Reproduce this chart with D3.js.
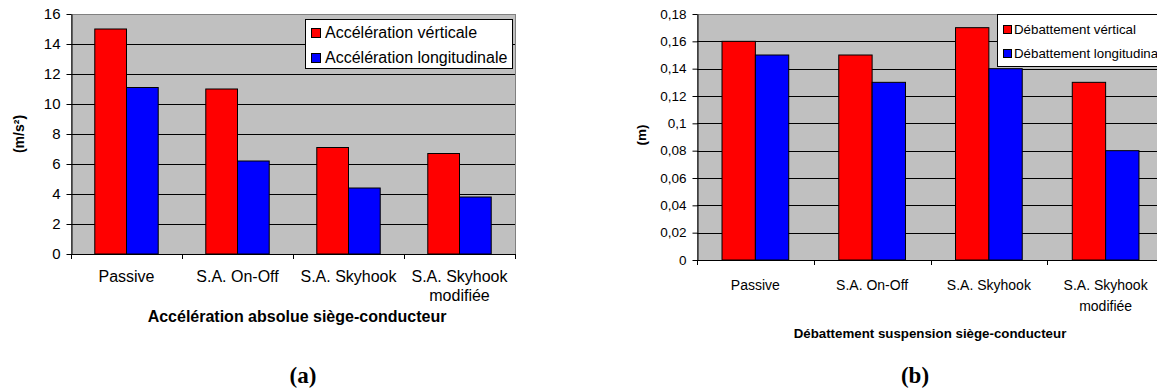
<!DOCTYPE html>
<html>
<head>
<meta charset="utf-8">
<script src="https://cdn.jsdelivr.net/npm/d3@7"></script>
<style>
  html, body { margin: 0; padding: 0; background: #ffffff; }
  svg { display: block; }
  text { font-family: "Liberation Sans", Arial, sans-serif; fill: #000; }
</style>
</head>
<body>
<svg id="fig" width="1157" height="390"></svg>
<script>
// Categories shared by both panels
const categories = ["Passive", "S.A. On-Off", "S.A. Skyhook", "S.A. Skyhook modifiée"];

// Panel (a): absolute acceleration at the driver seat (m/s²)
const accelSeries = ["Accélération vérticale", "Accélération longitudinale"];
const accelVerticale = [15.0, 11.0, 7.1, 6.7];
const accelLongitudinale = [11.1, 6.2, 4.4, 3.8];
const accelTicks = [0, 2, 4, 6, 8, 10, 12, 14, 16];
const accelTickLabels = ["0", "2", "4", "6", "8", "10", "12", "14", "16"];

// Panel (b): seat suspension travel (m)
const debSeries = ["Débattement vértical", "Débattement longitudinal"];
const debVertical = [0.16, 0.15, 0.17, 0.13];
const debLongitudinal = [0.15, 0.13, 0.14, 0.08];
const debTicks = [0, 0.02, 0.04, 0.06, 0.08, 0.1, 0.12, 0.14, 0.16, 0.18];
const debTickLabels = ["0", "0,02", "0,04", "0,06", "0,08", "0,1", "0,12", "0,14", "0,16", "0,18"];

const seriesColors = ["#ff0000", "#0000ff"];

const svg = d3.select("#fig");

function drawPanel(cfg) {
  const g = svg.append("g");
  const y = d3.scaleLinear().domain([0, cfg.ticks[cfg.ticks.length - 1]]).range([cfg.bottom, cfg.top]);
  const x = d3.scaleBand().domain(categories).range([cfg.left, cfg.right]).paddingInner(0).paddingOuter(0);
  // bars use 150% gap width: two bars plus 1.5 bar widths per category
  const xs = d3.scaleBand().domain(cfg.series).range([0, x.bandwidth()]).paddingInner(0).paddingOuter(0.75);

  // plot area
  g.append("rect")
    .attr("x", cfg.left).attr("y", cfg.top)
    .attr("width", cfg.right - cfg.left).attr("height", cfg.bottom - cfg.top)
    .attr("fill", "#c0c0c0").attr("stroke", "#808080").attr("stroke-width", 1)
    .attr("shape-rendering", "crispEdges");

  // horizontal gridlines
  g.append("g").selectAll("line")
    .data(cfg.ticks.slice(1, -1))
    .join("line")
    .attr("x1", cfg.left).attr("x2", cfg.right)
    .attr("y1", d => Math.round(y(d)) + 0.5).attr("y2", d => Math.round(y(d)) + 0.5)
    .attr("stroke", "#000").attr("stroke-width", 1);

  // bars
  const rows = categories.map((c, i) => ({ c, vals: cfg.values.map(v => v[i]) }));
  const grp = g.append("g").selectAll("g").data(rows).join("g")
    .attr("transform", d => `translate(${x(d.c)},0)`);
  grp.selectAll("rect")
    .data(d => d.vals.map((v, k) => ({ s: cfg.series[k], v, k })))
    .join("rect")
    .attr("x", d => xs(d.s))
    .attr("y", d => y(d.v))
    .attr("width", xs.bandwidth())
    .attr("height", d => y(0) - y(d.v))
    .attr("fill", d => seriesColors[d.k])
    .attr("stroke", "#000").attr("stroke-width", 1);

  // y axis
  const yAxis = d3.axisLeft(y)
    .tickValues(cfg.ticks)
    .tickFormat((d, i) => cfg.tickLabels[i])
    .tickSize(5).tickSizeOuter(0).tickPadding(6);
  const ya = g.append("g").attr("transform", `translate(${cfg.left + 0.5},0)`).call(yAxis);
  ya.select(".domain").attr("stroke", "#000");
  ya.selectAll(".tick line").attr("stroke", "#000");
  ya.selectAll("text").attr("font-size", cfg.tickFont + "px")
    .attr("font-family", '"Liberation Sans", Arial, sans-serif').attr("fill", "#000");

  // x axis: baseline and tick marks at category boundaries
  const bounds = categories.map(c => x(c)).concat([cfg.right]);
  g.append("line")
    .attr("x1", cfg.left).attr("x2", cfg.right)
    .attr("y1", Math.round(y(0)) + 0.5).attr("y2", Math.round(y(0)) + 0.5)
    .attr("stroke", "#000");
  g.append("g").selectAll("line").data(bounds).join("line")
    .attr("x1", d => Math.round(d) + 0.5).attr("x2", d => Math.round(d) + 0.5)
    .attr("y1", y(0)).attr("y2", y(0) + 5)
    .attr("stroke", "#000");

  // category labels, wrapped to the band width
  categories.forEach(c => {
    const cx = x(c) + x.bandwidth() / 2;
    const t = g.append("text")
      .attr("text-anchor", "middle")
      .attr("font-size", cfg.catFont + "px");
    const words = c.split(" ");
    let lines = [];
    let cur = [];
    words.forEach(w => {
      const trial = cur.concat([w]).join(" ");
      t.text(trial);
      if (t.node().getComputedTextLength() > x.bandwidth() - 8 && cur.length) {
        lines.push(cur.join(" "));
        cur = [w];
      } else {
        cur.push(w);
      }
    });
    lines.push(cur.join(" "));
    t.text(null);
    lines.forEach((ln, i) => {
      t.append("tspan").attr("x", cx).attr("y", cfg.catY + i * cfg.catLine).text(ln);
    });
  });

  // y axis title
  g.append("text")
    .attr("transform", `translate(${cfg.yTitleX},${cfg.yTitleY}) rotate(-90)`)
    .attr("text-anchor", "middle").attr("dominant-baseline", "central")
    .attr("font-weight", "bold").attr("font-size", cfg.yTitleFont + "px")
    .text(cfg.yTitle);

  // x axis title
  g.append("text")
    .attr("x", cfg.titleX).attr("y", cfg.titleY)
    .attr("text-anchor", "middle")
    .attr("font-weight", "bold").attr("font-size", cfg.titleFont + "px")
    .text(cfg.title);

  // legend
  const lg = g.append("g");
  lg.append("rect")
    .attr("x", cfg.legX + 0.5).attr("y", cfg.legY + 0.5)
    .attr("width", cfg.legW).attr("height", cfg.legH)
    .attr("fill", "#fff").attr("stroke", "#000");
  cfg.series.forEach((s, k) => {
    const cy = cfg.legY + cfg.legRow0 + k * cfg.legRowGap;
    lg.append("rect")
      .attr("x", cfg.legX + cfg.swX + 0.5).attr("y", Math.round(cy - cfg.sw / 2) + 0.5)
      .attr("width", cfg.sw).attr("height", cfg.sw)
      .attr("fill", seriesColors[k]).attr("stroke", "#000");
    lg.append("text")
      .attr("x", cfg.legX + cfg.txtX).attr("y", cy)
      .attr("dominant-baseline", "central")
      .attr("font-size", cfg.legFont + "px")
      .text(s);
  });

  // panel tag
  svg.append("text")
    .attr("x", cfg.tagX).attr("y", 383)
    .attr("text-anchor", "middle")
    .attr("font-family", '"Liberation Serif", "Times New Roman", serif')
    .attr("font-weight", "bold").attr("font-size", "23px")
    .style("font-family", '"Liberation Serif", "Times New Roman", serif')
    .text(cfg.tag);
}

drawPanel({
  left: 71, right: 515, top: 14, bottom: 254,
  ticks: accelTicks, tickLabels: accelTickLabels,
  series: accelSeries, values: [accelVerticale, accelLongitudinale],
  tickFont: 15, catFont: 16, catY: 282, catLine: 19,
  yTitle: "(m/s²)", yTitleX: 19, yTitleY: 134, yTitleFont: 14,
  title: "Accélération absolue siège-conducteur", titleX: 297, titleY: 322, titleFont: 16,
  legX: 305, legY: 19, legW: 207, legH: 49, legRow0: 13.5, legRowGap: 25,
  swX: 6, sw: 9, txtX: 20, legFont: 16,
  tag: "(a)", tagX: 303
});

drawPanel({
  left: 697, right: 1164, top: 14, bottom: 260,
  ticks: debTicks, tickLabels: debTickLabels,
  series: debSeries, values: [debVertical, debLongitudinal],
  tickFont: 13.5, catFont: 14, catY: 290, catLine: 20.5,
  yTitle: "(m)", yTitleX: 641, yTitleY: 135, yTitleFont: 13.5,
  title: "Débattement suspension siège-conducteur", titleX: 930, titleY: 338, titleFont: 13.3,
  legX: 997, legY: 14, legW: 200, legH: 52, legRow0: 15, legRowGap: 24,
  swX: 6, sw: 8, txtX: 17, legFont: 13.3,
  tag: "(b)", tagX: 915
});
</script>
</body>
</html>
